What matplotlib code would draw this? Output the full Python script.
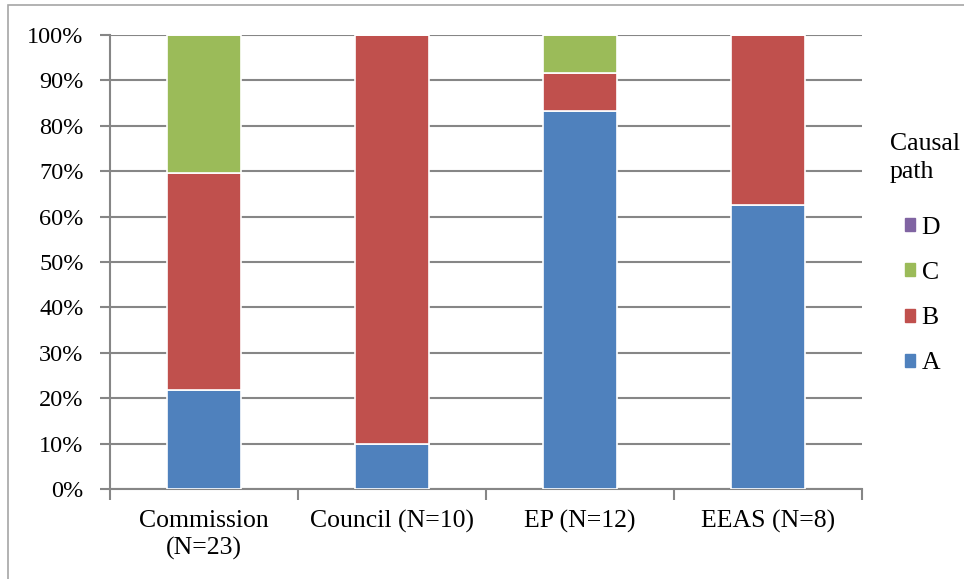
import matplotlib
matplotlib.use('Agg')
import matplotlib.pyplot as plt
import matplotlib.patches as mpatches
import numpy as np

# Data: share of cases per causal path (percent)
institutions = ['Commission\n(N=23)', 'Council (N=10)', 'EP (N=12)', 'EEAS (N=8)']
path_a = [21.7, 10.0, 83.3, 62.5]
path_b = [47.8, 90.0, 8.3, 37.5]
path_c = [30.4, 0.0, 8.3, 0.0]
path_d = [0.0, 0.0, 0.0, 0.0]
y_ticks = [0, 10, 20, 30, 40, 50, 60, 70, 80, 90, 100]

# Palette
C_A = '#4F81BD'
C_B = '#C0504D'
C_C = '#9BBB59'
C_D = '#8064A2'
C_GRID = '#868686'
C_FRAME = '#A6A6A6'

plt.rcParams['font.family'] = ['Liberation Serif', 'DejaVu Serif']
FS = 18.5
FS_Y = 17.5

fig = plt.figure(figsize=(9.64, 5.79), dpi=100)
fig.patch.set_facecolor('white')

# Outer chart frame
fig.patches.append(mpatches.Rectangle(
    (8 / 964, -0.01), 1.5, 1 - 5 / 579 + 0.01, transform=fig.transFigure,
    fill=False, edgecolor=C_FRAME, linewidth=1.2))

ax = fig.add_axes([110 / 964, 1 - 489 / 579, 752 / 964, 454 / 579])

x = np.arange(len(institutions))
w = 0.39
bottom = np.zeros(len(institutions))
for vals, col in [(path_a, C_A), (path_b, C_B), (path_c, C_C), (path_d, C_D)]:
    vals = np.array(vals)
    ax.bar(x, vals, w, bottom=bottom, color=col, edgecolor='white',
           linewidth=1.2, zorder=3)
    bottom += vals

ax.set_xlim(-0.5, len(institutions) - 0.5)
ax.set_ylim(0, 100)
ax.set_yticks(y_ticks)
ax.set_yticklabels([f'{t}%' for t in y_ticks], fontsize=FS_Y)
ax.yaxis.grid(True, color=C_GRID, linewidth=1.5, zorder=0)
ax.set_axisbelow(True)

ax.set_xticks(x)
ax.set_xticklabels(institutions, fontsize=FS, linespacing=1.3)
ax.set_xticks(np.arange(-0.5, len(institutions)), minor=True)
ax.tick_params(axis='x', which='major', length=0, pad=15)
ax.tick_params(axis='x', which='minor', length=8, width=1.5, color=C_GRID)
ax.tick_params(axis='y', length=7, width=1.5, color=C_GRID, pad=12)

for s in ['top', 'right']:
    ax.spines[s].set_visible(False)
for s in ['left', 'bottom']:
    ax.spines[s].set_color(C_GRID)
    ax.spines[s].set_linewidth(1.5)

# Legend
fig.text(890 / 964, 1 - 158 / 579, 'Causal\npath', fontsize=FS,
         ha='left', va='center', linespacing=1.35)
handles = [mpatches.Patch(color=c) for c in [C_D, C_C, C_B, C_A]]
fig.legend(handles, ['D', 'C', 'B', 'A'], loc='upper left',
           bbox_to_anchor=(905 / 964, 1 - 217 / 579), frameon=False,
           fontsize=FS, handlelength=0.4, handleheight=0.4,
           handletextpad=0.25, borderpad=0, borderaxespad=0,
           labelspacing=0.9)

plt.savefig('out.png', dpi=100, facecolor='white')
